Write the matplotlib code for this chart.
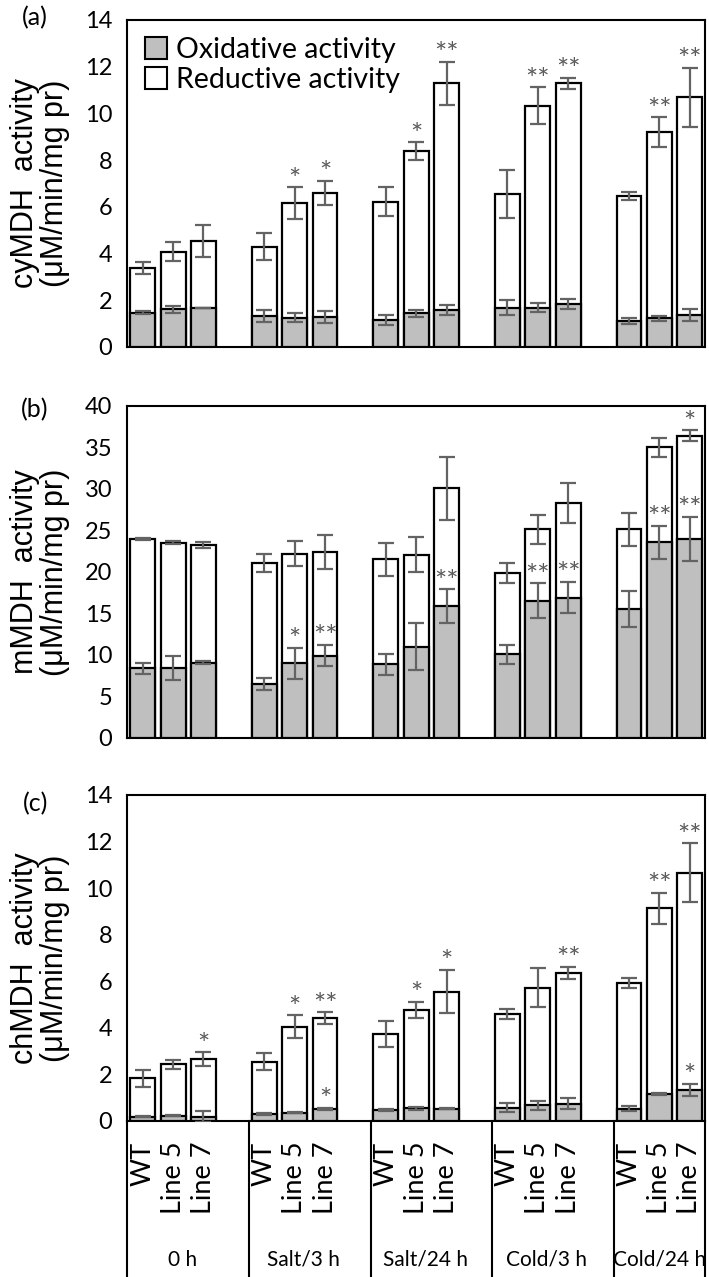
import matplotlib.pyplot as plt
from matplotlib.patches import Patch
import matplotlib.transforms as mtransforms
import numpy as np

plt.rcParams['font.family'] = ['Lato', 'DejaVu Sans']

groups = ['0 h', 'Salt/3 h', 'Salt/24 h', 'Cold/3 h', 'Cold/24 h']
lines = ['WT', 'Line 5', 'Line 7']

# (a) cyMDH
cy_red = [3.39, 4.08, 4.54, 4.29, 6.15, 6.58, 6.21, 8.39, 11.29, 6.54, 10.32, 11.29, 6.46, 9.19, 10.69]
cy_red_err = [0.25, 0.41, 0.68, 0.57, 0.69, 0.52, 0.62, 0.37, 0.93, 1.03, 0.79, 0.24, 0.19, 0.64, 1.26]
cy_oxi = [1.47, 1.61, 1.68, 1.33, 1.26, 1.30, 1.16, 1.44, 1.58, 1.68, 1.68, 1.83, 1.11, 1.23, 1.37]
cy_oxi_err = [0.05, 0.16, 0.0, 0.25, 0.18, 0.26, 0.21, 0.16, 0.22, 0.33, 0.19, 0.21, 0.12, 0.11, 0.27]
cy_red_sig = ['', '', '', '', '*', '*', '', '*', '**', '', '**', '**', '', '**', '**']
cy_oxi_sig = [''] * 15

# (b) mMDH
m_red = [23.98, 23.53, 23.25, 21.04, 22.2, 22.41, 21.53, 22.1, 30.08, 19.84, 25.14, 28.35, 25.14, 35.02, 36.42]
m_red_err = [0.1, 0.2, 0.4, 1.1, 1.5, 2.0, 2.0, 2.1, 3.8, 1.2, 1.75, 2.4, 2.0, 1.15, 0.65]
m_oxi = [8.39, 8.47, 9.08, 6.5, 9.0, 9.92, 8.87, 11.0, 15.9, 10.08, 16.55, 16.9, 15.54, 23.57, 23.98]
m_oxi_err = [0.64, 1.43, 0.2, 0.74, 1.87, 1.27, 1.3, 2.87, 2.0, 1.18, 2.1, 1.9, 2.2, 2.0, 2.65]
m_red_sig = [''] * 14 + ['*']
m_oxi_sig = ['', '', '', '', '*', '**', '', '', '**', '', '**', '**', '', '**', '**']

# (c) chMDH
ch_red = [1.83, 2.43, 2.65, 2.55, 4.05, 4.41, 3.74, 4.77, 5.55, 4.59, 5.73, 6.37, 5.91, 9.13, 10.66]
ch_red_err = [0.36, 0.2, 0.3, 0.37, 0.48, 0.26, 0.57, 0.34, 0.93, 0.2, 0.82, 0.26, 0.22, 0.66, 1.27]
ch_oxi = [0.19, 0.23, 0.19, 0.29, 0.36, 0.52, 0.47, 0.54, 0.53, 0.57, 0.67, 0.74, 0.53, 1.16, 1.33]
ch_oxi_err = [0.03, 0.03, 0.23, 0.03, 0.03, 0.05, 0.05, 0.07, 0.03, 0.19, 0.2, 0.23, 0.1, 0.05, 0.27]
ch_red_sig = ['', '', '*', '', '*', '**', '', '*', '*', '', '', '**', '', '**', '**']
ch_oxi_sig = [''] * 5 + ['*'] + [''] * 8 + ['*']

x = np.array([4 * g + j for g in range(len(groups)) for j in range(len(lines))])
gray = '#bfbfbf'
ecol = '#636363'


def panel(ax, red, red_err, oxi, oxi_err, red_sig, oxi_sig, ymax, ystep, ylab):
    ax.bar(x, red, width=0.82, color='white', edgecolor='black', linewidth=1.6, zorder=2)
    ax.errorbar(x, red, yerr=red_err, fmt='none', ecolor=ecol, elinewidth=1.6,
                capsize=5.5, capthick=1.6, zorder=3)
    ax.bar(x, oxi, width=0.82, color=gray, edgecolor='black', linewidth=1.6, zorder=4)
    ax.errorbar(x, oxi, yerr=oxi_err, fmt='none', ecolor=ecol, elinewidth=1.6,
                capsize=5.5, capthick=1.6, zorder=5)
    for vals, errs, sigs in [(red, red_err, red_sig), (oxi, oxi_err, oxi_sig)]:
        for xi, v, e, s in zip(x, vals, errs, sigs):
            if s:
                ax.annotate(s, (xi, v + e), xytext=(0, -1), textcoords='offset points',
                            ha='center', va='baseline', fontsize=21, color='#595959', zorder=6)
    ax.set_xlim(-0.5, 18.5)
    ax.set_ylim(0, ymax)
    ax.set_yticks(np.arange(0, ymax + 0.1, ystep))
    ax.tick_params(axis='y', length=0, pad=11, labelsize=17)
    ax.tick_params(axis='x', length=0)
    for sp in ax.spines.values():
        sp.set_linewidth(1.5)
    ax.set_ylabel(ylab, fontsize=22, family=['Liberation Sans', 'DejaVu Sans'], linespacing=1.0)
    ax.yaxis.set_label_coords(-0.10, 0.5)


fig = plt.figure(figsize=(7.09, 12.77), dpi=100)
ax1 = fig.add_axes([0.1798, 0.7283, 0.8145, 0.2561])
ax2 = fig.add_axes([0.1798, 0.4221, 0.8145, 0.2600])
ax3 = fig.add_axes([0.1798, 0.1222, 0.8145, 0.2553])

panel(ax1, cy_red, cy_red_err, cy_oxi, cy_oxi_err, cy_red_sig, cy_oxi_sig, 14, 2,
      'cyMDH  activity\n(μM/min/mg pr)')
panel(ax2, m_red, m_red_err, m_oxi, m_oxi_err, m_red_sig, m_oxi_sig, 40, 5,
      'mMDH  activity\n(μM/min/mg pr)')
panel(ax3, ch_red, ch_red_err, ch_oxi, ch_oxi_err, ch_red_sig, ch_oxi_sig, 14, 2,
      'chMDH  activity\n(μM/min/mg pr)')

ax1.set_xticks([])
ax2.set_xticks([])
ax3.set_xticks(x, labels=lines * len(groups), rotation=90, fontsize=19.5)
ax3.tick_params(axis='x', pad=15)

# category table under panel (c)
trans = mtransforms.blended_transform_factory(ax3.transData, ax3.transAxes)
for xs in [-0.5, 3.5, 7.5, 11.5, 15.5, 18.5]:
    ax3.plot([xs, xs], [0, -0.6], color='black', lw=1.5, transform=trans, clip_on=False)
cx = [4 * g + 1.3 for g in range(4)] + [17.0]
for c, name in zip(cx, groups):
    ax3.text(c, -0.426, name, transform=trans, ha='center', va='center', fontsize=15)

handles = [Patch(facecolor=gray, edgecolor='black', linewidth=1.5, label='Oxidative activity'),
           Patch(facecolor='white', edgecolor='black', linewidth=1.5, label='Reductive activity')]
ax1.legend(handles=handles, loc='upper left', bbox_to_anchor=(0, 1), frameon=False, fontsize=20.5,
           handlelength=0.8, handleheight=0.8, handletextpad=0.3, labelspacing=0.15,
           borderaxespad=0.2)

fig.text(0.049, 0.986, '(a)', ha='center', va='center', fontsize=18)
fig.text(0.049, 0.679, '(b)', ha='center', va='center', fontsize=18)
fig.text(0.050, 0.371, '(c)', ha='center', va='center', fontsize=18)

fig.savefig('out.png', dpi=100)
